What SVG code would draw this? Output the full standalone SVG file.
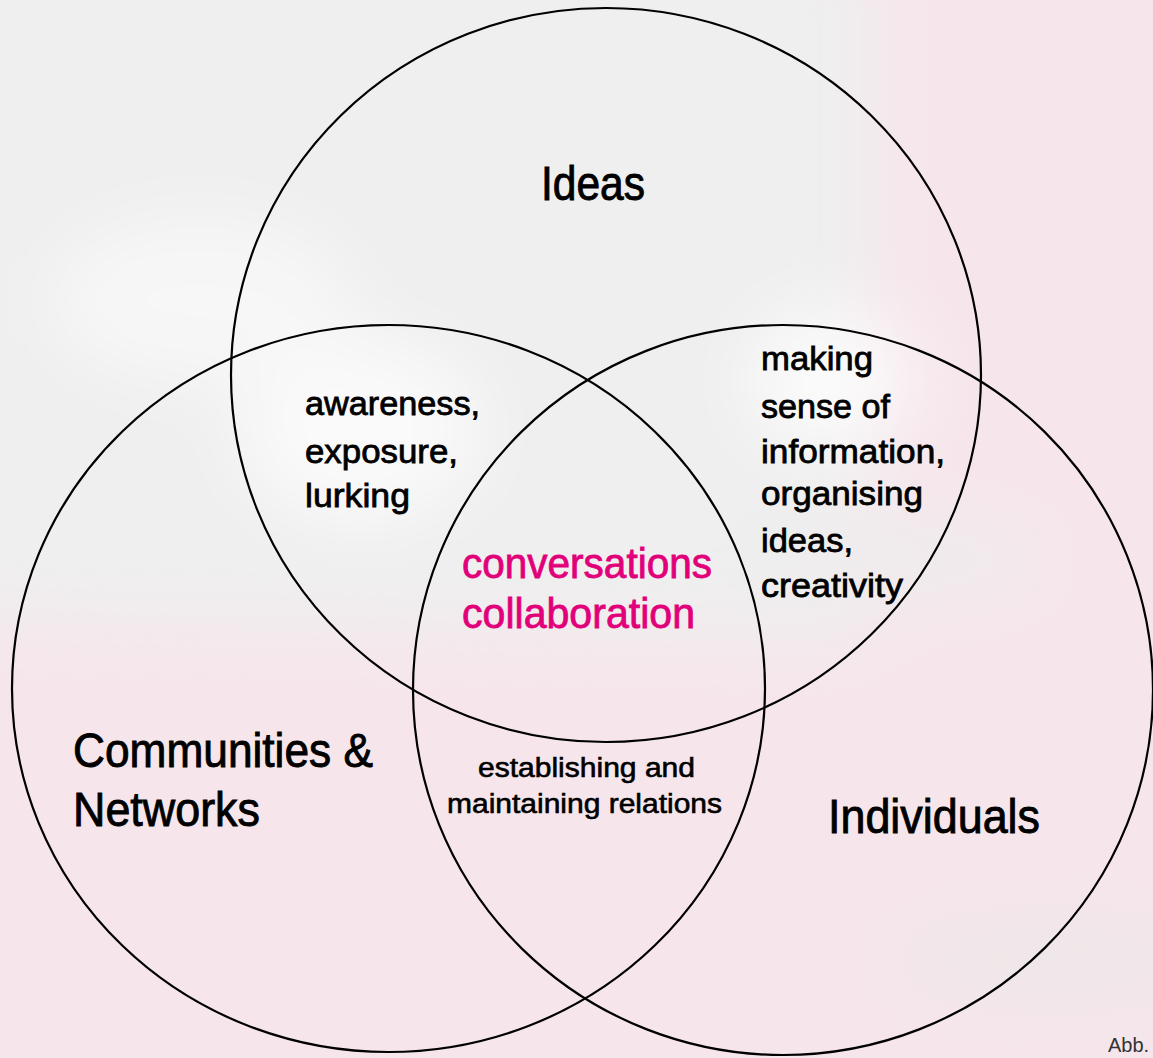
<svg xmlns="http://www.w3.org/2000/svg" width="1153" height="1058" viewBox="0 0 1153 1058">
  <defs>
    <filter id="blur" x="-20%" y="-20%" width="140%" height="140%">
      <feGaussianBlur stdDeviation="35"/>
    </filter>
    <style>
      .ring { fill: none; stroke: #000; stroke-width: 2.2; }
      .big { font-family: "Liberation Sans", Arial, sans-serif; font-size: 48px; fill: #000; stroke: #000; stroke-width: 0.9; }
      .mid { font-family: "Liberation Sans", Arial, sans-serif; font-size: 34px; fill: #000; stroke: #000; stroke-width: 0.8; }
      .center { font-family: "Liberation Sans", Arial, sans-serif; font-size: 42px; fill: #e2007a; stroke: #e2007a; stroke-width: 0.8; }
      .small { font-family: "Liberation Sans", Arial, sans-serif; font-size: 27px; fill: #000; stroke: #000; stroke-width: 0.6; }
      .note { font-family: "Liberation Sans", Arial, sans-serif; font-size: 20px; fill: #333; }
    </style>
  </defs>

  <!-- background -->
  <rect x="0" y="0" width="1153" height="1058" fill="#f6e6eb"/>
  <g filter="url(#blur)">
    <polygon points="-60,-60 870,-60 870,640 0,620 -60,620" fill="#efefef"/>
    <ellipse cx="360" cy="430" rx="120" ry="90" fill="#fafafa"/>
    <ellipse cx="830" cy="380" rx="80" ry="70" fill="#fbfbfb"/>
    <ellipse cx="200" cy="300" rx="150" ry="80" fill="#f7f7f7"/>
    <ellipse cx="1050" cy="960" rx="160" ry="30" fill="#ebe7e8"/>
    <ellipse cx="900" cy="560" rx="150" ry="40" fill="#efeced"/>
  </g>

  <g id="circle-ideas">
    <ellipse class="ring" cx="606" cy="375" rx="375" ry="367"/>
    <text class="big" x="541" y="200" textLength="104" lengthAdjust="spacingAndGlyphs">Ideas</text>
  </g>
  <g id="circle-communities">
    <ellipse class="ring" cx="388.5" cy="688.5" rx="376.5" ry="363.5"/>
    <text class="big" x="73" y="767" textLength="300" lengthAdjust="spacingAndGlyphs">Communities &amp;</text>
    <text class="big" x="73" y="826" textLength="187" lengthAdjust="spacingAndGlyphs">Networks</text>
  </g>
  <g id="circle-individuals">
    <ellipse class="ring" cx="783" cy="690" rx="370" ry="365"/>
    <text class="big" x="828" y="833" textLength="212" lengthAdjust="spacingAndGlyphs">Individuals</text>
  </g>

  <g id="overlap-ideas-communities">
    <text class="mid" x="305" y="415" textLength="175" lengthAdjust="spacingAndGlyphs">awareness,</text>
    <text class="mid" x="305" y="463" textLength="153" lengthAdjust="spacingAndGlyphs">exposure,</text>
    <text class="mid" x="305" y="507" textLength="105" lengthAdjust="spacingAndGlyphs">lurking</text>
  </g>
  <g id="overlap-ideas-individuals">
    <text class="mid" x="761" y="370" textLength="112" lengthAdjust="spacingAndGlyphs">making</text>
    <text class="mid" x="761" y="418" textLength="129" lengthAdjust="spacingAndGlyphs">sense of</text>
    <text class="mid" x="761" y="463" textLength="184" lengthAdjust="spacingAndGlyphs">information,</text>
    <text class="mid" x="761" y="505" textLength="162" lengthAdjust="spacingAndGlyphs">organising</text>
    <text class="mid" x="761" y="552" textLength="92" lengthAdjust="spacingAndGlyphs">ideas,</text>
    <text class="mid" x="761" y="597" textLength="142" lengthAdjust="spacingAndGlyphs">creativity</text>
  </g>
  <g id="overlap-all">
    <text class="center" x="462" y="578" textLength="250" lengthAdjust="spacingAndGlyphs">conversations</text>
    <text class="center" x="462" y="628" textLength="233" lengthAdjust="spacingAndGlyphs">collaboration</text>
  </g>
  <g id="overlap-communities-individuals">
    <text class="small" x="478" y="777" textLength="217" lengthAdjust="spacingAndGlyphs">establishing and</text>
    <text class="small" x="447" y="813" textLength="275" lengthAdjust="spacingAndGlyphs">maintaining relations</text>
  </g>
  <g id="connectors"></g>
  <text class="note" x="1108" y="1052">Abb.</text>
</svg>
